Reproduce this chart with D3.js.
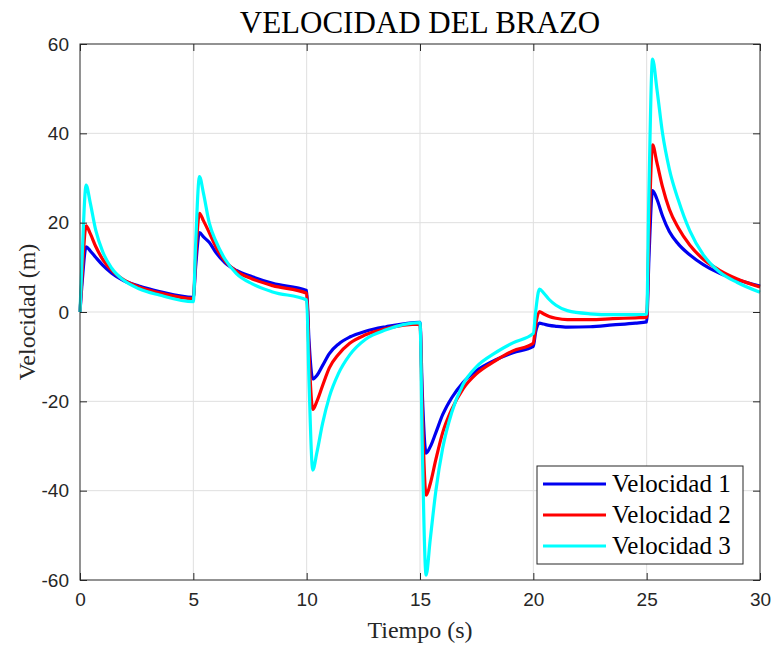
<!DOCTYPE html>
<html lang="es">
<head>
<meta charset="UTF-8">
<title>Velocidad del brazo</title>
<script src="https://cdn.jsdelivr.net/npm/d3@7/dist/d3.min.js"></script>
<style>
  body { margin: 0; background: #fff; }
  svg { display: block; }
</style>
</head>
<body>
<svg id="chart" width="774" height="648"></svg>
<script>
// tiempo (s), shared by the three series
const tiempo = [0, 0.1, 0.27, 0.45, 0.7, 1.0, 1.4, 1.9, 2.6, 3.5, 5.0,
  5.1, 5.27, 5.45, 5.7, 6.0, 6.4, 6.9, 7.6, 8.5, 10.0,
  10.1, 10.27, 10.45, 10.7, 11.0, 11.4, 11.9, 12.6, 13.5, 15.0,
  15.1, 15.27, 15.45, 15.7, 16.0, 16.4, 16.9, 17.5, 18.3, 19.1, 20.0,
  20.1, 20.27, 20.45, 20.7, 21.0, 21.5, 22.5, 23.5, 24.5, 25.0,
  25.1, 25.26, 25.45, 25.7, 26.0, 26.4, 26.9, 27.5, 28.2, 29.0, 30.0];

const velocidad1 = [0, 7, 14.6, 13.7, 12.2, 10.5, 8.7, 7.1, 5.8, 4.6, 3.3,
  10, 17.8, 16.8, 15.6, 13.3, 11.0, 9.3, 7.9, 6.4, 4.8,
  -6, -15, -14.2, -12.0, -9.3, -7.2, -5.6, -4.3, -3.3, -2.3,
  -18, -31.6, -30.2, -27, -23, -19.2, -15.8, -13.1, -10.8, -9.1, -7.7,
  -4.5, -2.5, -2.7, -3.0, -3.2, -3.4, -3.3, -2.9, -2.5, -2.2,
  12, 27.2, 25.3, 21.5, 18, 15.2, 12.8, 10.6, 8.7, 7.2, 5.8];

const velocidad2 = [0, 9, 19.3, 17.6, 14.6, 11.8, 9.3, 7.3, 5.6, 4.3, 3.0,
  12, 22.1, 20.4, 17.8, 14.5, 11.4, 9.1, 7.4, 5.9, 4.2,
  -9, -21.8, -20, -16.5, -12.5, -9.5, -7.0, -5.1, -3.7, -2.7,
  -22, -41, -38.5, -33, -27, -21.8, -17.2, -13.8, -11.0, -8.7, -7.0,
  -3, 0.1, -0.4, -1.0, -1.4, -1.7, -1.7, -1.5, -1.3, -1.2,
  17, 37.4, 33.5, 28, 23, 18.8, 15.0, 11.8, 9.4, 7.4, 5.6];

const velocidad3 = [0, 13, 28.4, 24.5, 18.2, 13.5, 9.8, 7.2, 5.2, 3.8, 2.3,
  15, 30.3, 26.5, 20, 15.8, 11.8, 8.6, 6.3, 4.5, 2.7,
  -15, -35.4, -31.5, -25, -19, -13.8, -9.6, -6.1, -4.0, -2.4,
  -30, -58.9, -51, -40, -30.5, -22.5, -16.2, -12.2, -9.2, -6.9, -4.8,
  0, 5.1, 4.3, 2.8, 1.5, 0.3, -0.4, -0.6, -0.6, -0.5,
  27, 56.6, 50, 40, 32, 25, 18.2, 12.8, 9.0, 6.6, 4.4];

const nombres = ["Velocidad 1", "Velocidad 2", "Velocidad 3"];
const colores = ["#0000f0", "#ff0000", "#00ffff"];
const xTicks = [0, 5, 10, 15, 20, 25, 30];
const yTicks = [-60, -40, -20, 0, 20, 40, 60];

const margin = {top: 44, right: 14, bottom: 68, left: 80};
const width = 774, height = 648;

const svg = d3.select("#chart");

const x = d3.scaleLinear().domain([0, 30]).range([margin.left, width - margin.right]);
const y = d3.scaleLinear().domain([-60, 60]).range([height - margin.bottom, margin.top]);

const axisColor = "#262626";

// grid
svg.append("g")
    .attr("stroke", "#dfdfdf")
    .attr("stroke-width", 1)
  .call(g => g.selectAll(".gx").data(xTicks.slice(1, -1)).join("line")
    .attr("x1", d => x(d)).attr("x2", d => x(d))
    .attr("y1", y(-60)).attr("y2", y(60)))
  .call(g => g.selectAll(".gy").data(yTicks.slice(1, -1)).join("line")
    .attr("class", "gy")
    .attr("x1", x(0)).attr("x2", x(30))
    .attr("y1", d => y(d)).attr("y2", d => y(d)));

// series
const series = [velocidad1, velocidad2, velocidad3];
const line = d3.line()
    .x(d => x(d[0]))
    .y(d => y(d[1]))
    .curve(d3.curveMonotoneX);

svg.append("g")
    .attr("fill", "none")
    .attr("stroke-width", 3.2)
    .attr("stroke-linejoin", "round")
  .selectAll("path")
  .data(series)
  .join("path")
    .attr("stroke", (d, i) => colores[i])
    .attr("d", d => line(d3.zip(tiempo, d)));

// axes (ticks inward, box on)
const tickLen = 7;
const fontTicks = "19px 'Liberation Sans', Arial, sans-serif";
const fmt = d => String(d);

svg.append("g")
    .attr("transform", `translate(0,${y(-60)})`)
    .call(d3.axisBottom(x).tickValues(xTicks).tickFormat(fmt).tickSize(-tickLen).tickPadding(tickLen + 6))
    .call(g => g.select(".domain").remove());

svg.append("g")
    .attr("transform", `translate(0,${y(60)})`)
    .call(d3.axisTop(x).tickValues(xTicks).tickSize(-tickLen).tickFormat(""))
    .call(g => g.select(".domain").remove());

svg.append("g")
    .attr("transform", `translate(${x(0)},0)`)
    .call(d3.axisLeft(y).tickValues(yTicks).tickFormat(fmt).tickSize(-tickLen).tickPadding(tickLen + 4))
    .call(g => g.select(".domain").remove());

svg.append("g")
    .attr("transform", `translate(${x(30)},0)`)
    .call(d3.axisRight(y).tickValues(yTicks).tickSize(-tickLen).tickFormat(""))
    .call(g => g.select(".domain").remove());

svg.selectAll(".tick line").attr("stroke", axisColor);
svg.selectAll(".tick text")
    .attr("fill", axisColor)
    .style("font", fontTicks);

svg.append("rect")
    .attr("x", x(0)).attr("y", y(60))
    .attr("width", x(30) - x(0)).attr("height", y(-60) - y(60))
    .attr("fill", "none")
    .attr("stroke", axisColor)
    .attr("stroke-width", 1);

// titles
const serif = "'Liberation Serif', 'Times New Roman', serif";

svg.append("text")
    .attr("x", (x(0) + x(30)) / 2)
    .attr("y", 33)
    .attr("text-anchor", "middle")
    .style("font", `31px ${serif}`)
    .attr("fill", "#000")
    .text("VELOCIDAD DEL BRAZO");

svg.append("text")
    .attr("x", (x(0) + x(30)) / 2)
    .attr("y", 638)
    .attr("text-anchor", "middle")
    .style("font", `24px ${serif}`)
    .attr("fill", axisColor)
    .text("Tiempo (s)");

svg.append("text")
    .attr("transform", `translate(35,${(y(-60) + y(60)) / 2}) rotate(-90)`)
    .attr("text-anchor", "middle")
    .style("font", `24px ${serif}`)
    .attr("fill", axisColor)
    .text("Velocidad (m)");

// legend
const legend = svg.append("g");
legend.append("rect")
    .attr("x", 537).attr("y", 466)
    .attr("width", 206).attr("height", 98)
    .attr("fill", "#fff")
    .attr("stroke", axisColor)
    .attr("stroke-width", 1);

const item = legend.selectAll("g")
  .data(nombres)
  .join("g")
    .attr("transform", (d, i) => `translate(0,${484 + i * 31})`);

item.append("line")
    .attr("x1", 543).attr("x2", 606)
    .attr("stroke", (d, i) => colores[i])
    .attr("stroke-width", 3.2);

item.append("text")
    .attr("x", 612)
    .attr("dy", "0.33em")
    .style("font", `25px ${serif}`)
    .attr("fill", "#000")
    .text(d => d);
</script>
</body>
</html>
